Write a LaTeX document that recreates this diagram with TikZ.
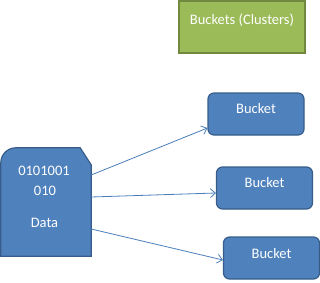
\documentclass[tikz,border=0pt]{standalone}
\usepackage{fontspec}
\setmainfont{Carlito}
\usetikzlibrary{arrows.meta,calc}
\definecolor{bluefill}{HTML}{4F81BD}
\definecolor{blueline}{HTML}{385D8A}
\definecolor{arrowcol}{HTML}{4A7EBB}
\definecolor{greenfill}{HTML}{9BBB59}
\definecolor{greenline}{HTML}{71893F}
\tikzset{
  bucketbox/.style={draw=blueline, fill=bluefill, line width=1.2pt, rounded corners=6pt,
    minimum width=96pt, minimum height=42pt, inner sep=0pt},
  legendbox/.style={draw=greenline, fill=greenfill, line width=1.2pt,
    minimum width=126pt, minimum height=52pt, inner sep=0pt},
  whitetext/.style={text=white, font=\fontsize{14.5}{17}\selectfont, inner sep=0pt},
  link/.style={draw=arrowcol, line width=0.8pt, -{Straight Barb[length=5pt,width=9pt]}}
}
\begin{document}
\begin{tikzpicture}[x=1pt,y=1pt]
\useasboundingbox (0,0) rectangle (320,282);
% legend
\node[legendbox] (legend) at (242,255) {};
\node[whitetext] (legendtext) at (242,262) {Buckets (Clusters)};
% data shape
\node[minimum width=90pt, minimum height=108pt, inner sep=0pt] (data) at (46,80) {};
\draw[draw=blueline, fill=bluefill, line width=1.2pt]
  (data.south west) -- ($(data.north west)+(0,-15)$) arc[start angle=180, end angle=90, radius=15]
  -- ($(data.north east)+(-11,0)$) -- ($(data.north east)+(0,-17)$) -- (data.south east) -- cycle;
\node[whitetext] (bits1) at (44,111) {0101001};
\node[whitetext] (bits2) at (45,91) {010};
\node[whitetext] (datalabel) at (44.5,59) {Data};
% buckets
\node[bucketbox] (b1) at (256,168) {};
\node[bucketbox] (b2) at (264.5,94) {};
\node[bucketbox] (b3) at (271.5,24) {};
\node[whitetext] (t1) at ($(b1.center)+(0,5)$) {Bucket};
\node[whitetext] (t2) at ($(b2.center)+(0,5)$) {Bucket};
\node[whitetext] (t3) at ($(b3.center)+(0,4)$) {Bucket};
% connector ends
\coordinate (d1) at ($(data.east)+(0,27)$);
\coordinate (d2) at ($(data.east)+(0,5)$);
\coordinate (d3) at ($(data.east)+(0,-27)$);
\coordinate (e1) at ($(b1.west)+(0,-14)$);
\coordinate (e2) at ($(b2.west)+(0,-5)$);
\coordinate (e3) at ($(b3.west)+(0,-2)$);
\draw[link] (d1) -- (e1);
\draw[link] (d2) -- (e2);
\draw[link] (d3) -- (e3);
\end{tikzpicture}
\end{document}
